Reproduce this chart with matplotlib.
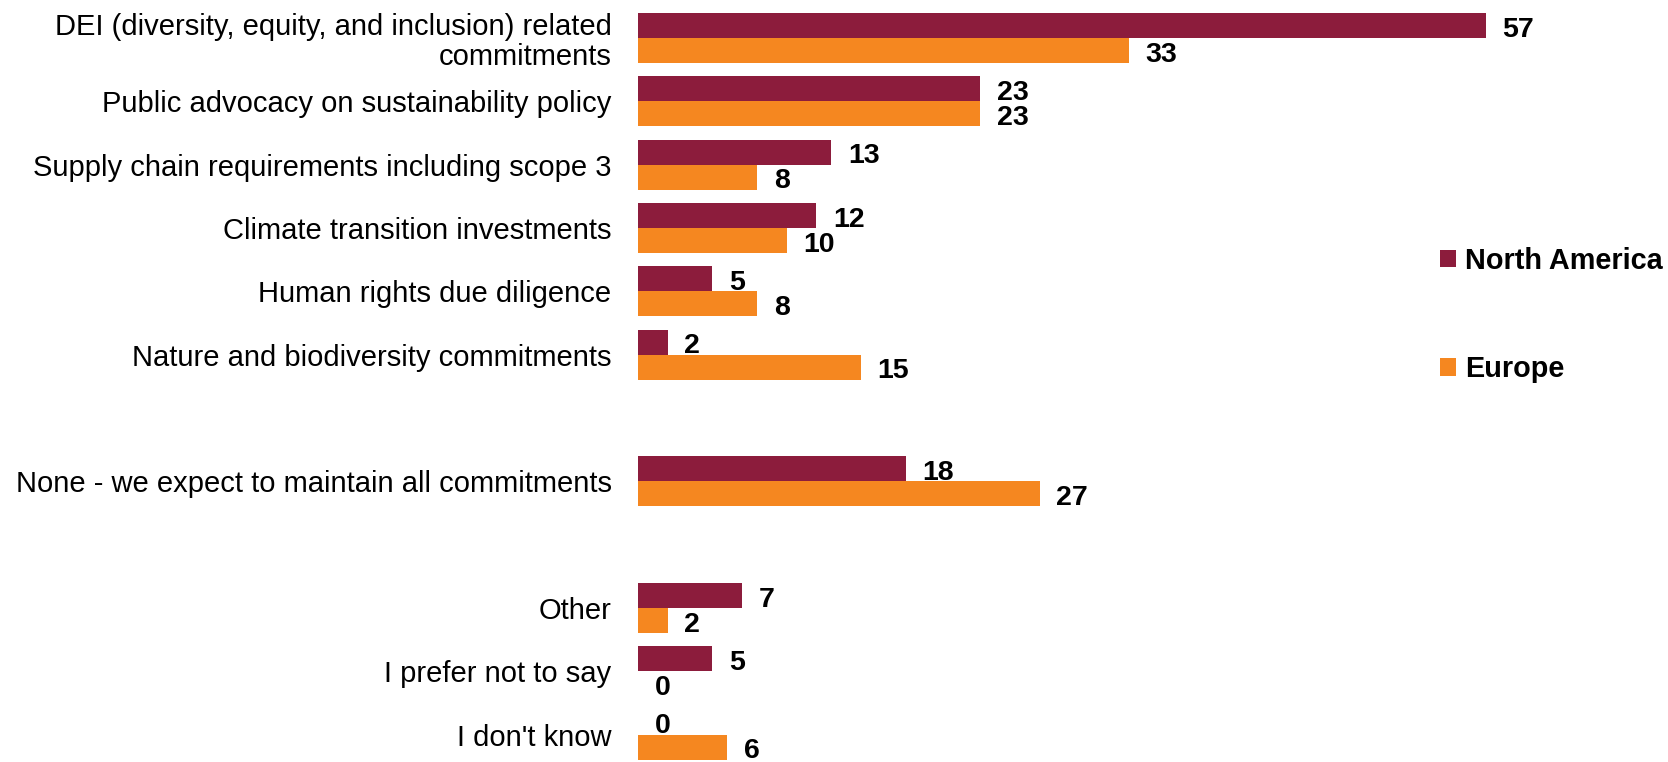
import matplotlib
matplotlib.use("Agg")
import matplotlib.pyplot as plt

plt.rcParams['font.family'] = ['Liberation Sans', 'DejaVu Sans']

# Commitments expected to be scaled back, % of respondents
groups = [
    ["DEI (diversity, equity, and inclusion) related\ncommitments",
     "Public advocacy on sustainability policy",
     "Supply chain requirements including scope 3",
     "Climate transition investments",
     "Human rights due diligence",
     "Nature and biodiversity commitments"],
    ["None - we expect to maintain all commitments"],
    ["Other",
     "I prefer not to say",
     "I don't know"],
]
north_america = [57, 23, 13, 12, 5, 2, 18, 7, 5, 0]
europe = [33, 23, 8, 10, 8, 15, 27, 2, 0, 6]
series_names = ["North America", "Europe"]

NA_COLOR = "#8C1C3C"
EU_COLOR = "#F58720"

# one empty row between groups
categories = []
ypos = []
row = 0
for g in groups:
    for c in g:
        categories.append(c)
        ypos.append(row)
        row += 1
    row += 1

fig = plt.figure(figsize=(16.68, 7.62), dpi=100)
ax = fig.add_axes([638 / 1668, -0.0055, 1041 / 1668, 0.9972])

bh = 0.395
na_y = [y - bh / 2 for y in ypos]
eu_y = [y + bh / 2 for y in ypos]
ax.barh(na_y, north_america, height=bh, color=NA_COLOR, label=series_names[0])
ax.barh(eu_y, europe, height=bh, color=EU_COLOR, label=series_names[1])

for y, v in zip(na_y, north_america):
    ax.annotate(str(v), (v, y), xytext=(12, -3), textcoords='offset points',
                ha='left', va='center', fontsize=20.5, fontweight='bold')
for y, v in zip(eu_y, europe):
    ax.annotate(str(v), (v, y), xytext=(12, -3), textcoords='offset points',
                ha='left', va='center', fontsize=20.5, fontweight='bold')

ax.set_xlim(0, 70)
ax.set_ylim(11.5, -0.5)
ax.set_yticks(ypos)
ax.set_yticklabels(categories, fontsize=21, linespacing=1.1)
ax.set_xticks([])
ax.tick_params(axis='y', length=0, pad=19)
for s in ax.spines.values():
    s.set_visible(False)

leg = ax.legend(loc='center left', bbox_to_anchor=(1440 / 1668, 1 - 315 / 762),
                bbox_transform=fig.transFigure, frameon=False,
                prop={'size': 20.8, 'weight': 'bold'},
                handlelength=0.56, handleheight=0.56, handletextpad=0.3,
                labelspacing=2.8, borderpad=0, borderaxespad=0)

fig.savefig("out.png", dpi=100)
